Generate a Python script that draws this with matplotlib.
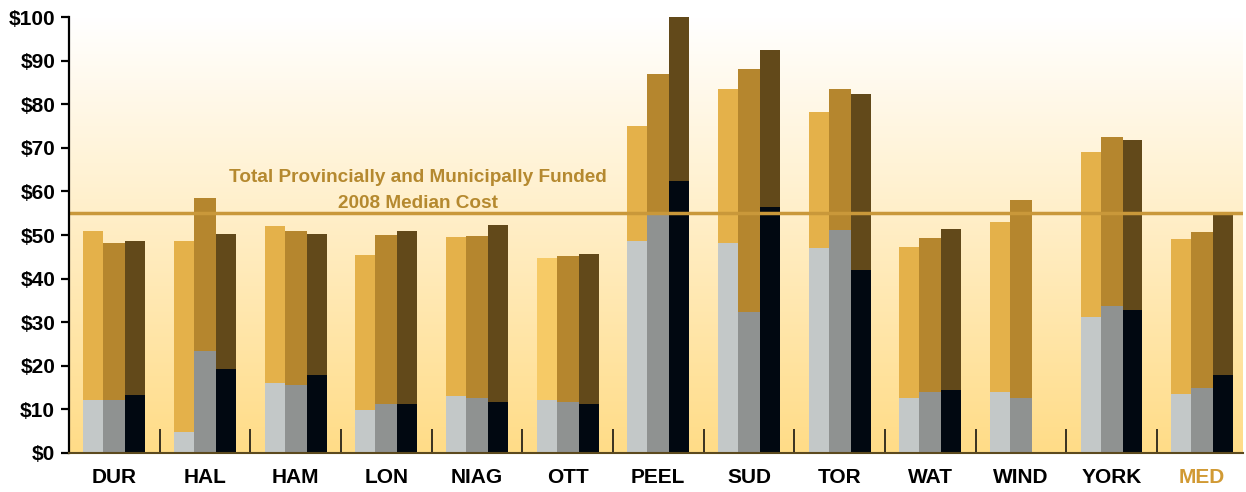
import numpy as np
import matplotlib
matplotlib.use('Agg')
import matplotlib.pyplot as plt
from matplotlib.colors import LinearSegmentedColormap

plt.rcParams['font.family'] = ['Liberation Sans', 'DejaVu Sans']
plt.rcParams['font.weight'] = 'bold'

cats = ['DUR', 'HAL', 'HAM', 'LON', 'NIAG', 'OTT', 'PEEL', 'SUD', 'TOR', 'WAT', 'WIND', 'YORK', 'MED']
# total cost per bar (three bars per municipality)
total_a = [50.9, 48.6, 52.0, 45.5, 49.5, 44.7, 75.0, 83.5, 78.2, 47.2, 53.0, 69.0, 49.1]
total_b = [48.2, 58.5, 50.9, 50.0, 49.8, 45.2, 86.9, 88.1, 83.5, 49.3, 58.0, 72.5, 50.7]
total_c = [48.6, 50.2, 50.2, 50.9, 52.3, 45.6, 100.0, 92.4, 82.3, 51.4, np.nan, 71.8, 54.8]
# lower (grey / black) part of each bar
base_a = [12.2, 4.8, 16.1, 9.9, 13.1, 12.2, 48.6, 48.2, 47.0, 12.6, 14.0, 31.2, 13.5]
base_b = [12.2, 23.4, 15.6, 11.2, 12.6, 11.7, 54.6, 32.3, 51.2, 14.0, 12.6, 33.7, 14.9]
base_c = [13.3, 19.3, 17.9, 11.2, 11.7, 11.2, 62.4, 56.4, 42.0, 14.4, np.nan, 32.8, 17.9]
median_cost = 55.0

totals = [total_a, total_b, total_c]
bases = [base_a, base_b, base_c]
top_cols = ['#E4B14A', '#B5862E', '#62491A']
base_cols = ['#C3C8C8', '#8F9291', '#010811']
lefts = [-0.342, -0.122, 0.121]
widths = [0.22, 0.243, 0.22]

fig = plt.figure(figsize=(12.46, 4.92), dpi=100)
ax = fig.add_axes([0.0554, 0.0793, 0.9422, 0.8861])

# background gradient
cmap = LinearSegmentedColormap.from_list('bg', ['#FFDC87', '#FFEDC3', '#FFFFFF'])
grad = np.linspace(0, 1, 256).reshape(-1, 1)
ax.imshow(grad, cmap=cmap, aspect='auto', extent=[0, 1, 0, 1], origin='lower',
          transform=ax.transAxes, zorder=0)

x = np.arange(len(cats))
for k in range(3):
    tot = np.array(totals[k], dtype=float)
    base = np.array(bases[k], dtype=float)
    tcols = [top_cols[k]] * len(cats)
    if k == 0:
        tcols[cats.index('OTT')] = '#F6CA66'
    ax.bar(x + lefts[k], base, width=widths[k], align='edge', color=base_cols[k], zorder=2)
    ax.bar(x + lefts[k], tot - base, bottom=base, width=widths[k], align='edge',
           color=tcols, zorder=2)

ax.axhline(median_cost, color='#C9983A', lw=2.5, zorder=3)
ax.text(3.35, 62.2, 'Total Provincially and Municipally Funded', ha='center', va='baseline',
        fontsize=13.7, color='#B5892F', fontweight='bold', zorder=4)
ax.text(3.35, 56.2, '2008 Median Cost', ha='center', va='baseline',
        fontsize=13.7, color='#B5892F', fontweight='bold', zorder=4)

ax.set_xlim(-0.5, 12.45)
ax.set_ylim(0, 100)
ax.set_yticks(np.arange(0, 101, 10))
ax.set_yticklabels(['$%d' % v for v in range(0, 101, 10)], fontsize=15, fontweight='bold')
ax.set_xticks(x)
ax.set_xticklabels(cats, fontsize=15, fontweight='bold')
ax.get_xticklabels()[-1].set_color('#D19A34')
ax.set_xticks(x[:-1] + 0.5, minor=True)
ax.tick_params(axis='x', which='major', length=0, pad=11)
ax.tick_params(axis='x', which='minor', direction='in', length=17, width=1.3, color='#2A2418')
ax.tick_params(axis='y', which='major', direction='out', length=6, width=1.6, pad=4)

for s in ['top', 'right']:
    ax.spines[s].set_visible(False)
ax.spines['left'].set_linewidth(1.6)
ax.spines['left'].set_color('black')
ax.spines['bottom'].set_linewidth(1.5)
ax.spines['bottom'].set_color('#5C4A1E')
ax.spines['left'].set_zorder(5)
ax.spines['bottom'].set_zorder(5)

fig.savefig('out.png', dpi=100)
